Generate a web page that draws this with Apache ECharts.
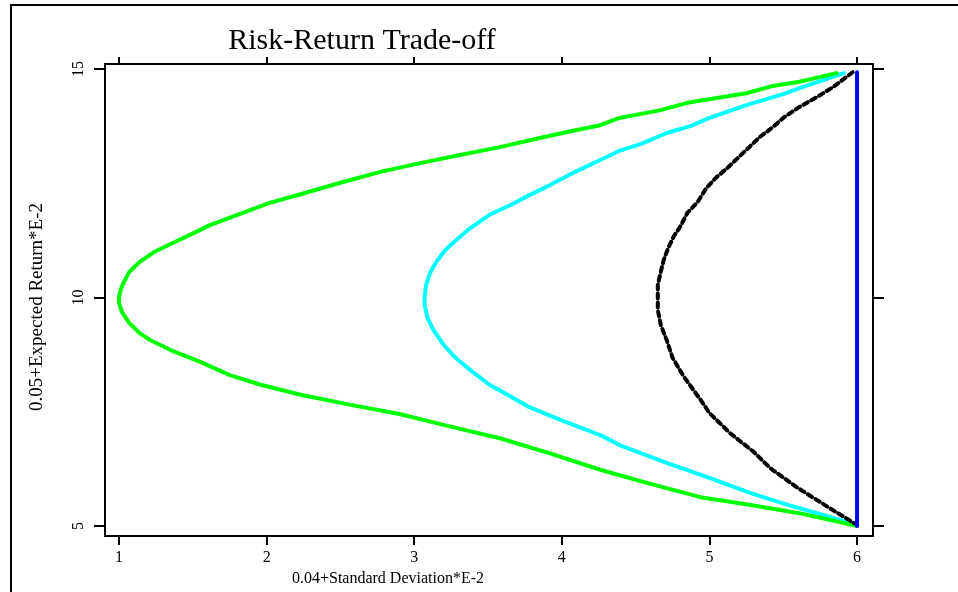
<!DOCTYPE html>
<html><head><meta charset="utf-8">
<script src="https://cdn.jsdelivr.net/npm/echarts@6/dist/echarts.min.js"></script>
<style>html,body{margin:0;padding:0;background:#fff}#c{width:958px;height:592px}</style>
</head><body><div id="c"></div>
<script>
var titleText = "Risk-Return Trade-off";
var xName = "0.04+Standard Deviation*E-2";
var yName = "0.05+Expected Return*E-2";
var xTicks = [1, 2, 3, 4, 5, 6];
var yTicks = [5, 10, 15];

// [std, return]
var greenFrontier = [
  [5.86,14.91],[5.61,14.72],[5.43,14.63],[5.25,14.47],[4.85,14.26],[4.67,14.10],[4.39,13.93],
  [4.26,13.77],[4.06,13.64],[3.85,13.49],[3.58,13.29],[3.31,13.12],[3.04,12.94],[2.77,12.75],
  [2.50,12.51],[2.23,12.26],[2.02,12.07],[1.82,11.83],[1.62,11.59],[1.48,11.37],[1.35,11.17],
  [1.24,11.00],[1.14,10.78],[1.07,10.56],[1.03,10.32],[1.01,10.16],[1.00,10.00],[1.00,9.88],
  [1.02,9.68],[1.07,9.44],[1.14,9.22],[1.21,9.07],[1.35,8.85],[1.55,8.59],[1.75,8.30],
  [1.96,8.09],[2.23,7.87],[2.57,7.65],[2.90,7.45],[3.24,7.18],[3.58,6.92],[3.92,6.59],
  [4.26,6.23],[4.60,5.92],[4.94,5.63],[5.28,5.46],[5.61,5.28],[6.00,5.00]
];
var cyanFrontier = [
  [5.91,14.91],[5.61,14.58],[5.50,14.45],[5.25,14.21],[5.00,13.93],[4.87,13.75],[4.71,13.60],
  [4.55,13.38],[4.39,13.21],[4.26,13.01],[4.09,12.75],[3.92,12.46],[3.78,12.24],[3.65,12.02],
  [3.51,11.81],[3.38,11.52],[3.30,11.30],[3.21,11.04],[3.15,10.78],[3.11,10.56],[3.08,10.27],
  [3.07,10.00],[3.07,9.84],[3.09,9.55],[3.13,9.29],[3.20,8.96],[3.28,8.68],[3.38,8.41],
  [3.51,8.09],[3.65,7.84],[3.78,7.60],[3.99,7.32],[4.26,6.99],[4.39,6.77],[4.71,6.38],
  [5.00,6.05],[5.28,5.72],[5.53,5.46],[5.73,5.28],[6.00,5.02]
];
var blackFrontier = [
  [5.97,14.93],[5.84,14.61],[5.73,14.39],[5.61,14.17],[5.50,13.93],[5.43,13.73],[5.34,13.51],
  [5.25,13.23],[5.12,12.83],[5.05,12.64],[4.98,12.40],[4.92,12.09],[4.85,11.85],[4.80,11.54],
  [4.76,11.35],[4.72,11.08],[4.69,10.82],[4.67,10.56],[4.65,10.27],[4.65,10.00],[4.65,9.73],
  [4.67,9.40],[4.71,9.07],[4.75,8.68],[4.82,8.30],[4.89,7.98],[4.94,7.76],[5.00,7.47],
  [5.14,7.03],[5.30,6.62],[5.41,6.27],[5.59,5.85],[5.80,5.42],[6.00,5.02]
];
var blueFrontier = [[6.00,14.93],[6.00,5.00]];

var font = "Liberation Serif";
var chart = echarts.init(document.getElementById('c'), null, {renderer: 'canvas'});

function lineSeries(data, color, type, z) {
  return {
    type: 'line', data: data, xAxisIndex: 0, yAxisIndex: 0, symbol: 'none', z: z,
    smooth: false, animation: false,
    lineStyle: {color: color, width: 4, type: type, cap: 'round', join: 'round'}
  };
}

chart.setOption({
  animation: false,
  backgroundColor: '#fff',
  title: {
    text: titleText, left: 357, top: 21, textAlign: 'center',
    textStyle: {fontFamily: font, fontSize: 30, fontWeight: 'normal', color: '#000'}
  },
  graphic: [{
    type: 'rect', shape: {x: 11, y: 5, width: 1200, height: 1200},
    style: {fill: 'none', stroke: '#000', lineWidth: 2}, silent: true
  }],
  grid: {left: 105, top: 64, right: 85, bottom: 56, show: true, borderColor: '#000', borderWidth: 2, containLabel: false},
  xAxis: [{
    type: 'value', min: 0.905, max: 6.108, position: 'bottom',
    name: xName, nameLocation: 'middle', nameGap: 35,
    nameTextStyle: {fontFamily: font, fontSize: 16, color: '#000', padding: [0, 202, 0, 0]},
    axisLine: {show: true, onZero: false, lineStyle: {color: '#000', width: 2}},
    axisTick: {show: true, inside: false, length: 9, customValues: xTicks, lineStyle: {color: '#000', width: 2}},
    axisLabel: {show: true, customValues: xTicks, margin: 14, fontFamily: font, fontSize: 16, color: '#000'},
    splitLine: {show: false}
  }, {
    type: 'value', min: 0.905, max: 6.108, position: 'top',
    axisLine: {show: true, onZero: false, lineStyle: {color: '#000', width: 2}},
    axisTick: {show: true, inside: false, length: 7, customValues: xTicks, lineStyle: {color: '#000', width: 2}},
    axisLabel: {show: false}, splitLine: {show: false}
  }],
  yAxis: [{
    type: 'value', min: 4.78, max: 15.11, position: 'left',
    name: yName, nameLocation: 'middle', nameGap: 58, nameRotate: 90,
    nameTextStyle: {fontFamily: font, fontSize: 19, color: '#000', padding: [0, 14, 0, 0]},
    axisLine: {show: true, onZero: false, lineStyle: {color: '#000', width: 2}},
    axisTick: {show: true, inside: false, length: 11, customValues: yTicks, lineStyle: {color: '#000', width: 2}},
    axisLabel: {show: true, customValues: yTicks, rotate: 90, margin: 18, fontFamily: font, fontSize: 16, color: '#000'},
    splitLine: {show: false}
  }, {
    type: 'value', min: 4.78, max: 15.11, position: 'right',
    axisLine: {show: true, onZero: false, lineStyle: {color: '#000', width: 2}},
    axisTick: {show: true, inside: false, length: 11, customValues: yTicks, lineStyle: {color: '#000', width: 2}},
    axisLabel: {show: false}, splitLine: {show: false}
  }],
  series: [
    lineSeries(cyanFrontier, '#00ffff', 'solid', 2),
    lineSeries(greenFrontier, '#00ff00', 'solid', 3),
    lineSeries(blackFrontier, '#000000', [5, 4], 4),
    lineSeries(blueFrontier, '#0000ff', 'solid', 5)
  ]
});
</script></body></html>
